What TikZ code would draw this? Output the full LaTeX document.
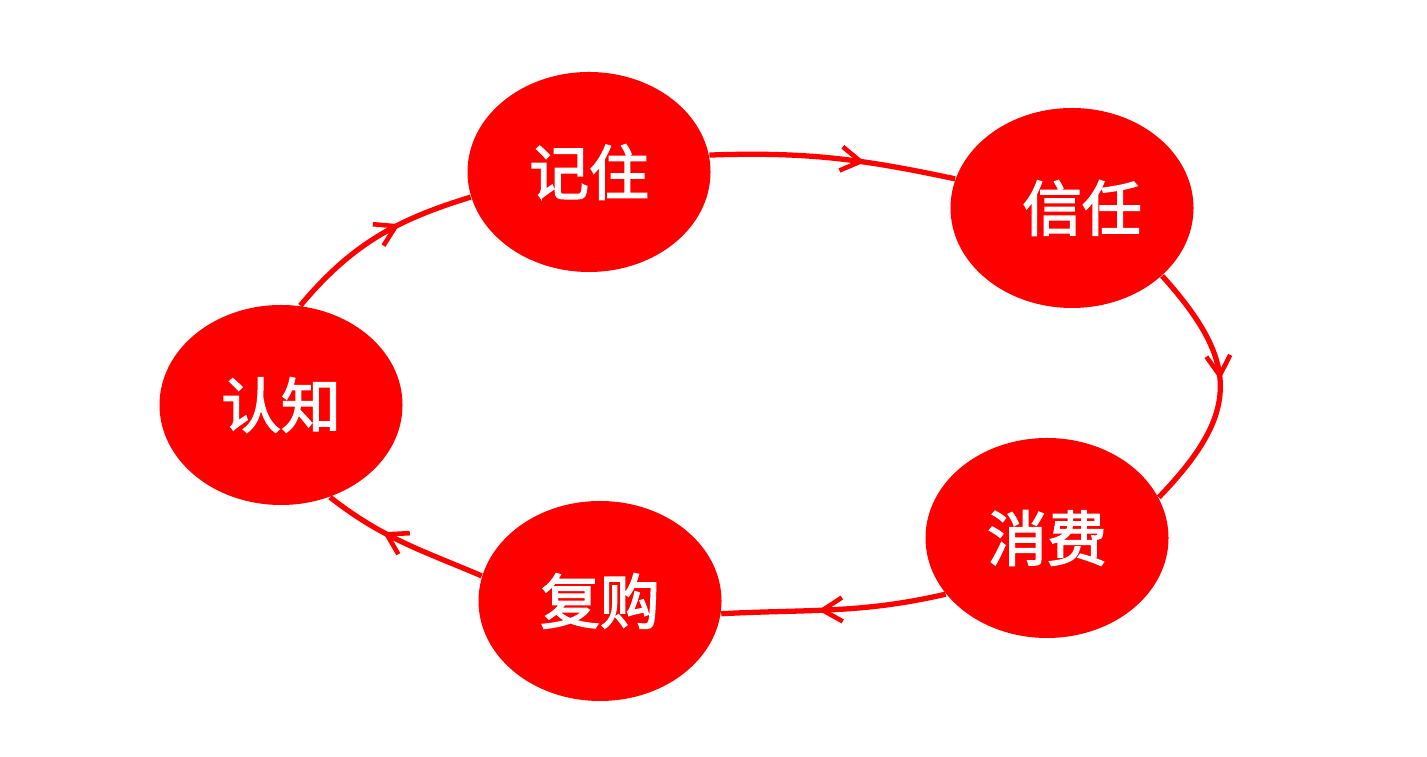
\documentclass[tikz,border=0pt]{standalone}
\usepackage{fontspec}
\newfontfamily\cjk{Noto Sans CJK SC}[FakeBold=2.5]
\usetikzlibrary{arrows.meta,decorations.markings,shapes.geometric}
\definecolor{cred}{RGB}{255,0,0}
\tikzset{
  stage/.style={ellipse, fill=cred, draw=none, inner sep=0pt,
    minimum width=2.43cm, minimum height=2.0cm,
    text=white, font=\cjk\fontsize{17}{20}\selectfont},
  flow/.style={draw=cred, line width=1.5pt,
    postaction={decorate, decoration={markings,
      mark=at position #1 with {\arrow{Straight Barb[length=5.6pt,width=6.8pt,line width=1.3pt]}}}}},
  flow/.default=0.5
}
\begin{document}
\begin{tikzpicture}
\useasboundingbox (0,0) rectangle (14.27,7.57);
\node[stage] (jz) at (5.89,5.85) {记住};
\node[stage] (xr) at (10.72,5.49) {\hspace{0.2cm}信任};
\node[stage] (rz) at (2.81,3.52) {认知\hspace{0.2cm}};
\node[stage] (fg) at (6.00,1.56) {复购\hspace{0.1cm}};
\node[stage] (xf) at (10.47,2.19) {消费};
\draw[flow=0.63] (jz.8) to[out=2,in=168] (xr.166);
\draw[flow=0.47] (xr.-37) to[out=-48,in=46,looseness=1.35] (xf.20);
\draw[flow=0.57] (xf.-151) to[out=193,in=3] (fg.-6.5);
\draw[flow=0.63] (fg.168.5) to[out=157,in=-38] (rz.-62);
\draw[flow=0.63] (rz.79) to[out=50,in=197] (jz.-168);
\end{tikzpicture}
\end{document}
